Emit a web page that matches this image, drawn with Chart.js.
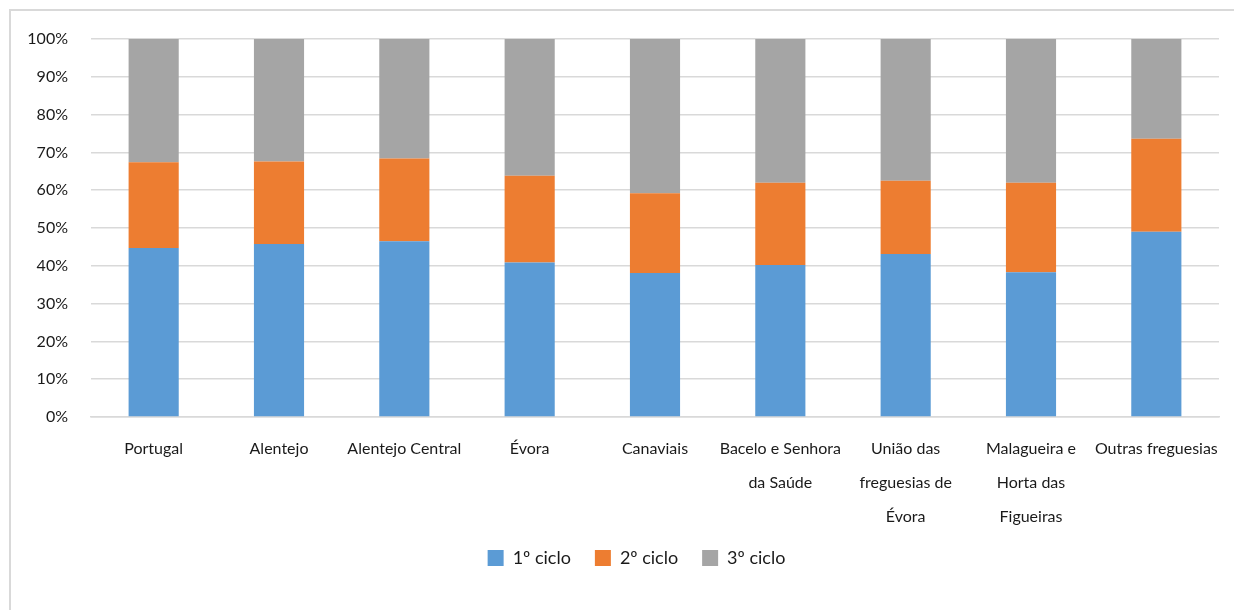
<!DOCTYPE html>
<html>
<head>
<meta charset="utf-8">
<script src="https://cdn.jsdelivr.net/npm/chart.js@4"></script>
<style>
  html, body { margin: 0; padding: 0; background: #ffffff; }
  canvas { display: block; }
</style>
</head>
<body>
<canvas id="chart" width="1234" height="610"></canvas>
<script>
// Distribuição dos alunos do ensino básico por ciclo (%)
const categories = [
  'Portugal',
  'Alentejo',
  'Alentejo Central',
  'Évora',
  'Canaviais',
  ['Bacelo e Senhora', 'da Saúde'],
  ['União das', 'freguesias de', 'Évora'],
  ['Malagueira e', 'Horta das', 'Figueiras'],
  'Outras freguesias'
];
const ciclo1 = [44.7, 45.8, 46.5, 40.9, 38.1, 40.2, 43.1, 38.3, 49.0];
const ciclo2 = [22.7, 21.8, 21.9, 22.9, 21.1, 21.8, 19.4, 23.7, 24.6];
const ciclo3 = [32.6, 32.4, 31.6, 36.2, 40.8, 38.0, 37.5, 38.0, 26.4];
const seriesNames = ['1º ciclo', '2º ciclo', '3º ciclo'];
const yTicks = [0, 10, 20, 30, 40, 50, 60, 70, 80, 90, 100];

const FONT = 'Lato, "Open Sans", "Noto Sans", sans-serif';
const GRID = '#d9d9d9';
const TEXT = '#1a1a1a';
const LEGEND_SHIFT = 27;

// thin frame around the chart area (top and left edges)
const framePlugin = {
  id: 'frame',
  beforeDraw(chart) {
    const ctx = chart.ctx;
    ctx.save();
    ctx.strokeStyle = GRID;
    ctx.lineWidth = 2;
    ctx.beginPath();
    ctx.moveTo(10, 610);
    ctx.lineTo(10, 10);
    ctx.lineTo(1234, 10);
    ctx.stroke();
    ctx.restore();
  }
};

// nudge the legend row to the right of the canvas centre
const legendShiftPlugin = {
  id: 'legendShift',
  afterLayout(chart) {
    if (chart.legend) {
      chart.legend.left += LEGEND_SHIFT;
      chart.legend.right += LEGEND_SHIFT;
    }
  }
};

new Chart(document.getElementById('chart'), {
  type: 'bar',
  data: {
    labels: categories,
    datasets: [
      { label: seriesNames[0], data: ciclo1, backgroundColor: '#5b9bd5' },
      { label: seriesNames[1], data: ciclo2, backgroundColor: '#ed7d31' },
      { label: seriesNames[2], data: ciclo3, backgroundColor: '#a5a5a5' }
    ]
  },
  options: {
    responsive: false,
    animation: false,
    layout: { padding: { left: 0, right: 15, top: 39, bottom: 33 } },
    datasets: { bar: { categoryPercentage: 1, barPercentage: 0.4 } },
    plugins: {
      tooltip: { enabled: false },
      legend: {
        position: 'bottom',
        labels: {
          boxWidth: 16,
          boxHeight: 16,
          padding: 24,
          color: TEXT,
          font: { family: FONT, size: 18 }
        }
      }
    },
    scales: {
      x: {
        stacked: true,
        grid: { display: false, drawTicks: false },
        border: { display: true, color: GRID, width: 1.5 },
        ticks: {
          autoSkip: false,
          maxRotation: 0,
          padding: 15,
          color: TEXT,
          font: { family: FONT, size: 16, lineHeight: '34px' }
        },
        afterFit(scale) { scale.height = 108; }
      },
      y: {
        stacked: true,
        min: 0,
        max: 100,
        afterBuildTicks(scale) { scale.ticks = yTicks.map(v => ({ value: v })); },
        grid: { color: GRID, lineWidth: 1.5, drawTicks: false },
        border: { display: false },
        ticks: {
          padding: 23,
          color: TEXT,
          font: { family: FONT, size: 16 },
          callback: v => v + '%'
        },
        afterFit(scale) { scale.width = 91; }
      }
    }
  },
  plugins: [framePlugin, legendShiftPlugin]
});
</script>
</body>
</html>
